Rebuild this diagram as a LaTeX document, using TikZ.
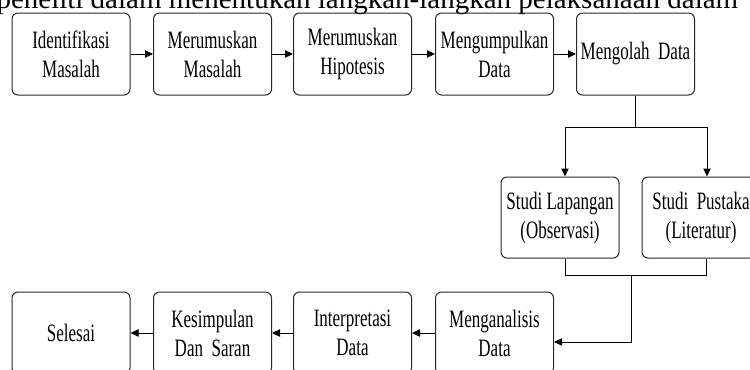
\documentclass[tikz,border=0pt]{standalone}
\usepackage{fontspec}
\setmainfont{Liberation Serif}
\newfontfamily\narrowserif[FakeStretch=0.68]{Liberation Serif}
\usetikzlibrary{arrows.meta}

\tikzset{every picture/.style={line width=0.75pt}}
\tikzset{
  stepbox/.style={draw={rgb,255:red,40;green,40;blue,40}, rounded corners=4.5pt,
    minimum width=88.5pt, minimum height=61.5pt, align=center, inner sep=0pt,
    font=\narrowserif\fontsize{18.75}{21.75}\selectfont},
  flow/.style={-{Triangle[length=6pt,width=5.5pt]}},
}

\begin{document}
\begin{tikzpicture}[x=0.75pt,y=0.75pt,yscale=-1,xscale=1]
\useasboundingbox (0,0) rectangle (750,369);
\clip (0,0) rectangle (750,369);

% Text Node
\node [anchor=base west, inner sep=0pt, font=\fontsize{21.75}{26}\selectfont] (judul) at (-4,8.5) {peneliti dalam menentukan langkah-langkah pelaksanaan dalam};

%Top row
\node [stepbox] (idm) at (71,54) {Identifikasi\\Masalah};
\node [stepbox] (rmm) at (212.5,54) {Merumuskan\\Masalah};
\node [stepbox] (hip) at (352.5,54) {Merumuskan\\Hipotesis};
\node [stepbox] (kum) at (494.5,54) {Mengumpulkan\\Data};
\node [stepbox] (olah) at (635.5,54) {Mengolah~~Data};

%Middle row
\node [stepbox, minimum height=60.75pt] (lap) at (560,217.5) {Studi Lapangan\\(Observasi)};
\node [stepbox, minimum height=60.75pt] (pus) at (701,217.5) {Studi~~Pustaka\\(Literatur)};

%Bottom row
\node [stepbox] (ang) at (494.5,333) {Menganalisis\\Data};
\node [stepbox] (itp) at (352.5,333) {Interpretasi\\Data};
\node [stepbox] (kes) at (212.5,333) {Kesimpulan\\Dan~~Saran};
\node [stepbox] (sel) at (71,333) {Selesai};

%Straight Lines
\draw [flow] (idm) -- (rmm);
\draw [flow] (rmm) -- (hip);
\draw [flow] (hip) -- (kum);
\draw [flow] (kum) -- (olah);

\coordinate (lapin) at ([xshift=3.75pt]lap.north);
\coordinate (pusin) at ([xshift=4.5pt]pus.north);
\draw [flow] (olah.south) -- ++(0,32) -| (lapin);
\draw [flow] (olah.south) ++(0,32) -| (pusin);

\coordinate (lapout) at ([xshift=3.75pt]lap.south);
\coordinate (pusout) at ([xshift=3.75pt]pus.south);
\coordinate (gabung) at (631,275);
\coordinate (angin) at ([yshift=6.75pt]ang.east);
\draw (lapout) -- ++(0,17) -| (pusout);
\draw [flow] (gabung) |- (angin);

\draw [flow] (ang) -- (itp);
\draw [flow] (itp) -- (kes);
\draw [flow] (kes) -- (sel);

\end{tikzpicture}
\end{document}
